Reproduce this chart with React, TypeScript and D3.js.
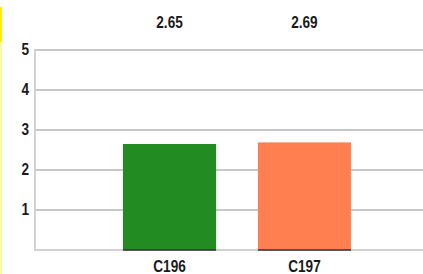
import * as d3 from 'd3';
import React, { useEffect, useRef } from 'react';

const categories = ['C196', 'C197'];
const values = [2.65, 2.69];
const colors = ['#228b22', '#ff7f50'];
const yTicks = [1, 2, 3, 4, 5];

const App: React.FC = () => {
  const svgRef = useRef<SVGSVGElement>(null);

  useEffect(() => {
    const W = 423;
    const H = 274;
    const svg = d3.select(svgRef.current);
    svg.selectAll('*').remove();
    svg.attr('width', W).attr('height', H);

    const font = "'Liberation Sans', Arial, sans-serif";
    const sx = 0.85; // text looks horizontally condensed

    const x = d3.scaleBand<string>().domain(categories).range([35, 439]).paddingInner(0.31).paddingOuter(0.652);
    const y = d3.scaleLinear().domain([0, 5]).range([250, 50]);

    // yellow left border (cropping artifact)
    svg.append('rect').attr('x', 0).attr('y', 7).attr('width', 2).attr('height', 35).attr('fill', '#ffee00');
    svg.append('rect').attr('x', 0).attr('y', 42).attr('width', 2).attr('height', 232).attr('fill', '#fff7a0');

    // gridlines
    svg
      .selectAll('.grid')
      .data(yTicks)
      .enter()
      .append('line')
      .attr('x1', 35)
      .attr('x2', W)
      .attr('y1', (d) => y(d))
      .attr('y2', (d) => y(d))
      .attr('stroke', '#c8c8c8')
      .attr('stroke-width', 2);

    // axis lines
    svg.append('line').attr('x1', 35).attr('x2', 35).attr('y1', y(5) - 1).attr('y2', y(0) + 1).attr('stroke', '#d2d2d2').attr('stroke-width', 2);
    svg.append('line').attr('x1', 35).attr('x2', W).attr('y1', y(0)).attr('y2', y(0)).attr('stroke', '#d2d2d2').attr('stroke-width', 2);

    const label = (tx: number, ty: number, anchor: string, txt: string) =>
      svg
        .append('text')
        .attr('transform', `translate(${tx},${ty}) scale(${sx},1)`)
        .attr('text-anchor', anchor)
        .attr('font-family', font)
        .attr('font-weight', 'bold')
        .attr('font-size', 16)
        .attr('fill', '#1a1a1a')
        .text(txt);

    // y labels
    yTicks.forEach((t) => label(29, y(t) + 5, 'end', String(t)));

    // bars
    svg
      .selectAll('.bar')
      .data(values)
      .enter()
      .append('rect')
      .attr('x', (_, i) => x(categories[i])!)
      .attr('y', (d) => y(d))
      .attr('width', x.bandwidth())
      .attr('height', (d) => y(0) - y(d))
      .attr('fill', (_, i) => colors[i]);

    svg
      .selectAll('.barbase')
      .data(values)
      .enter()
      .append('line')
      .attr('x1', (_, i) => x(categories[i])!)
      .attr('x2', (_, i) => x(categories[i])! + x.bandwidth())
      .attr('y1', y(0))
      .attr('y2', y(0))
      .attr('stroke', '#333')
      .attr('stroke-width', 1.5);

    // value labels
    values.forEach((v, i) => label(x(categories[i])! + x.bandwidth() / 2, 28, 'middle', v.toFixed(2)));

    // category labels
    categories.forEach((c) => label(x(c)! + x.bandwidth() / 2, 272, 'middle', c));
  }, []);

  return (
    <div style={{ position: 'absolute', left: 0, top: 0 }}>
      <svg ref={svgRef} style={{ display: 'block' }} />
    </div>
  );
};

export default App;
